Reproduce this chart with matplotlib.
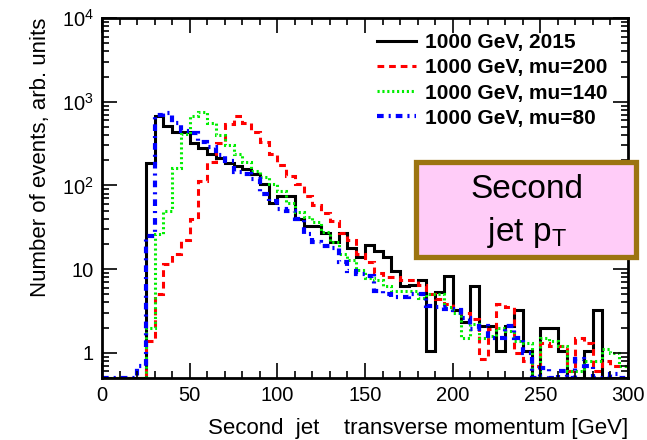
import numpy as np
import matplotlib
matplotlib.use("Agg")
import matplotlib.pyplot as plt
from matplotlib.lines import Line2D
from matplotlib.patches import Rectangle
from matplotlib.ticker import FixedLocator, NullFormatter, MultipleLocator

plt.rcParams['font.family'] = ['Liberation Sans', 'DejaVu Sans']
plt.rcParams['mathtext.fontset'] = 'custom'
plt.rcParams['mathtext.rm'] = 'Liberation Sans'
plt.rcParams['mathtext.it'] = 'Liberation Sans'

# 5 GeV bins, 0 - 300 GeV
bin_edges = np.arange(0, 305, 5)

labels = ["1000 GeV, 2015", "1000 GeV, mu=200", "1000 GeV, mu=140", "1000 GeV, mu=80"]

pt_2015 = [0, 0, 0, 0, 0, 187, 680, 515, 430, 430,
           325, 282, 240, 215, 187, 170, 156, 137, 103, 62,
           75, 75, 40, 33, 33, 27, 21, 27, 18, 13.8,
           19.5, 16.5, 13.8, 9.5, 6.3, 6.5, 7.4, 1.06, 5.3, 8.3,
           3.2, 2.3, 6.3, 2.1, 2.1, 1.05, 2.1, 3.2, 1.05, 0,
           2.0, 2.0, 1.05, 0, 0, 1.05, 3.2, 0, 0, 0]

pt_mu200 = [0, 0, 0, 0, 0, 1.4, 5, 11.5, 15, 22,
            40, 113, 190, 320, 540, 680, 560, 430, 330, 240,
            175, 130, 105, 75, 58, 47, 38, 27, 22, 15,
            12, 9, 8, 8, 7.5, 7.5, 6.5, 5, 4.4, 3.8,
            3.2, 3.0, 2.5, 0.85, 1.9, 3.8, 3.5, 1.0, 0.8, 0.7,
            1.3, 1.2, 1.2, 0.6, 1.5, 1.3, 0.6, 0.8, 0.7, 0.7]

pt_mu140 = [0, 0, 0, 0, 0, 2, 26, 50, 160, 410,
            680, 745, 560, 400, 300, 240, 190, 150, 125, 105,
            85, 62, 48, 42, 37, 28, 21, 15, 13, 9.8,
            7.9, 7.5, 6.3, 5.5, 5.5, 5.5, 4.5, 5, 5, 3.5,
            3, 1.5, 2.2, 1.5, 1.6, 2, 1.8, 1.4, 1.3, 0,
            1.5, 1.4, 1.2, 0.6, 0.6, 0.8, 0.8, 1.1, 1.0, 0.7]

pt_mu80 = [0, 0, 0, 0, 0.7, 25, 690, 740, 560, 450,
           420, 330, 285, 230, 195, 145, 135, 120, 78, 65,
           52, 50, 40, 26, 21, 19, 18, 12, 9.5, 8.7,
           8.3, 5.5, 5, 4.6, 4.6, 5, 5, 3.6, 3.5, 3.3,
           3.2, 2.6, 1.9, 2.1, 1.5, 1.5, 2.1, 1.5, 1.0, 0,
           0.65, 0, 0.6, 0, 0.85, 0.7, 0, 0, 0.56, 0]

ymin, ymax = 0.5, 1e4

fig = plt.figure(figsize=(6.47, 4.40), dpi=100)
ax = fig.add_axes([0.1577, 0.141, 0.8129, 0.818])

styles = [
    dict(color="black", lw=2.2, ls="-"),
    dict(color="#ff0000", lw=2.2, ls=(0, (2.2, 1.6))),
    dict(color="#00ee00", lw=2.2, ls=(0, (0.7, 0.9))),
    dict(color="#0000ff", lw=3.0, ls=(0, (1.6, 1.2, 0.5, 1.2))),
]
series = [pt_2015, pt_mu200, pt_mu140, pt_mu80]

for vals, st in zip(series, styles):
    v = np.maximum(np.array(vals, dtype=float), ymin)
    ax.stairs(v, bin_edges, baseline=None, **st)

ax.set_yscale("log")
ax.set_xlim(0, 300)
ax.set_ylim(ymin, ymax)

ax.yaxis.set_major_locator(FixedLocator([1, 10, 100, 1000, 10000]))
ax.set_yticklabels(["1", "10", "$10^{2}$", "$10^{3}$", "$10^{4}$"])
minors = [m * 10.0 ** e for e in range(-1, 4) for m in range(2, 10)]
ax.yaxis.set_minor_locator(FixedLocator(minors))
ax.yaxis.set_minor_formatter(NullFormatter())
ax.xaxis.set_major_locator(MultipleLocator(50))
ax.xaxis.set_minor_locator(MultipleLocator(10))

ax.tick_params(which="both", direction="in", top=True, right=True,
               width=1.2, labelsize=14.5, colors="black")
ax.tick_params(which="major", length=11, pad=6)
ax.tick_params(which="minor", length=5)
for sp in ax.spines.values():
    sp.set_linewidth(2)

ax.set_xlabel("Second  jet    transverse momentum [GeV]", fontsize=16,
              loc="right", labelpad=9)
ax.set_ylabel("Number of events, arb. units", fontsize=16, loc="top",
              labelpad=8)

handles = [Line2D([], [], **st) for st in styles]
ax.legend(handles, labels, loc="upper left",
          bbox_to_anchor=(377 / 647, 1 - 33 / 440),
          bbox_transform=fig.transFigure, borderaxespad=0, borderpad=0,
          frameon=False, prop=dict(weight="bold", size=15),
          handlelength=1.85, handletextpad=0.45, labelspacing=0.3)

# label box
box = Rectangle((416 / 647, 1 - 257 / 440), 220 / 647, 95 / 440,
                transform=fig.transFigure, facecolor="#ffccf8",
                edgecolor="#9c7410", lw=3.8, clip_on=False, zorder=5)
fig.add_artist(box)
fig.text(527 / 647, 1 - 189 / 440, "Second", ha="center", va="center",
         fontsize=24, zorder=6)
fig.text(527 / 647, 1 - 232 / 440, "jet p$_{\\mathrm{T}}$", ha="center",
         va="center", fontsize=24, zorder=6)

fig.savefig("out.png", dpi=100)
